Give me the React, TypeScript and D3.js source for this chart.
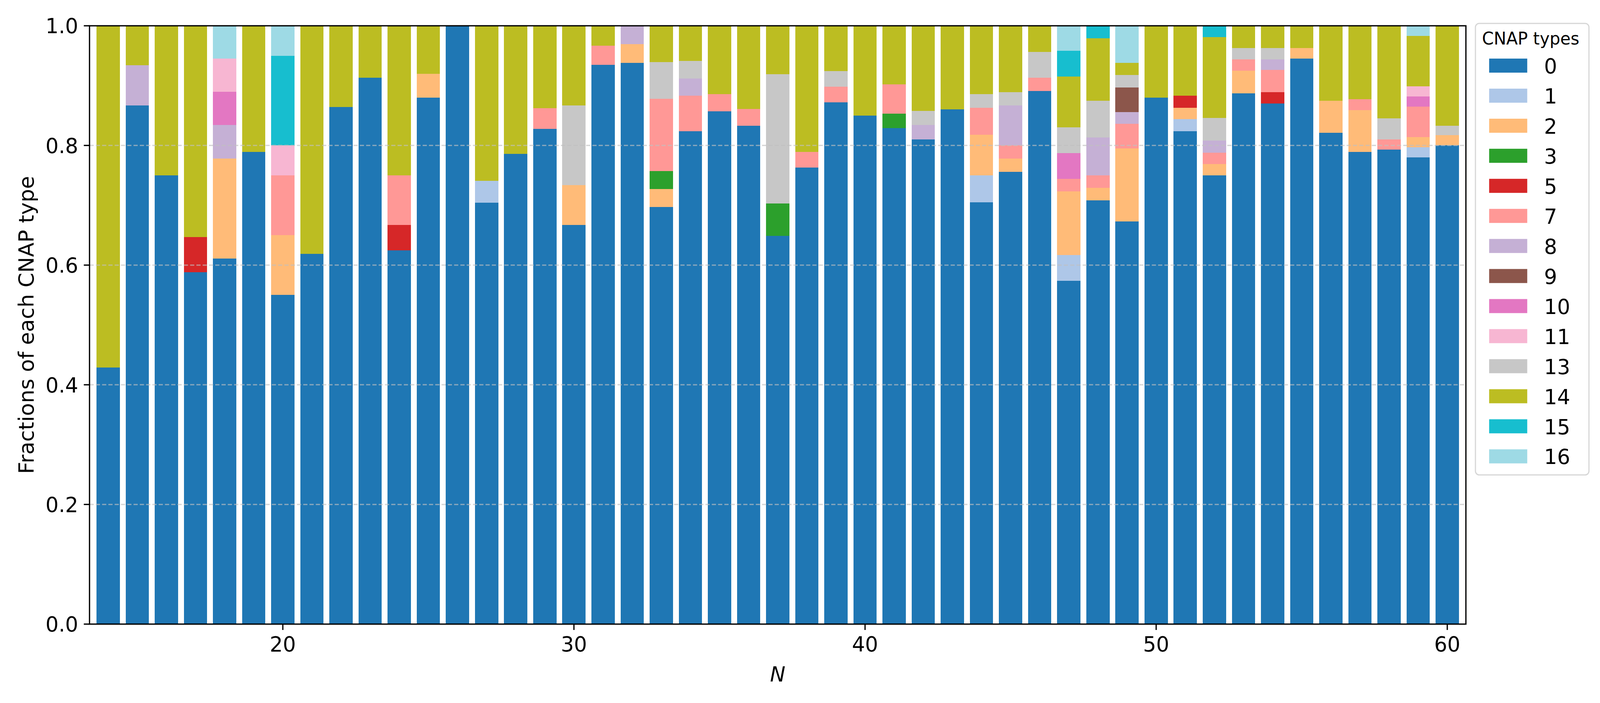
import React from "react";
import * as d3 from "d3";

// ---------- data ----------
const nValues = [14, 15, 16, 17, 18, 19, 20, 21, 22, 23, 24, 25, 26, 27, 28, 29, 30, 31, 32, 33, 34, 35, 36, 37, 38, 39, 40, 41, 42, 43, 44, 45, 46, 47, 48, 49, 50, 51, 52, 53, 54, 55, 56, 57, 58, 59, 60];

const cnapTypes = ["0", "1", "2", "3", "5", "7", "8", "9", "10", "11", "13", "14", "15", "16"];
const typeColors = ["#1f77b4", "#aec7e8", "#ffbb78", "#2ca02c", "#d62728", "#ff9896", "#c5b0d5", "#8c564b", "#e377c2", "#f7b6d2", "#c7c7c7", "#bcbd22", "#17becf", "#9edae5"];

// fractions per N (N = 14 .. 60)
const frac0 = [0.429, 0.867, 0.750, 0.588, 0.611, 0.789, 0.550, 0.619, 0.864, 0.913,
  0.625, 0.880, 1.000, 0.704, 0.786, 0.828, 0.667, 0.935, 0.938, 0.697,
  0.824, 0.857, 0.833, 0.649, 0.763, 0.872, 0.850, 0.829, 0.810, 0.860,
  0.705, 0.756, 0.891, 0.574, 0.708, 0.673, 0.880, 0.824, 0.750, 0.887,
  0.870, 0.945, 0.821, 0.789, 0.793, 0.780, 0.800];
const frac1 = [0, 0, 0, 0, 0, 0, 0, 0, 0, 0,
  0, 0, 0, 0.037, 0, 0, 0, 0, 0, 0,
  0, 0, 0, 0, 0, 0, 0, 0, 0, 0,
  0.045, 0, 0, 0.043, 0, 0, 0, 0.020, 0, 0,
  0, 0, 0, 0, 0, 0.017, 0];
const frac2 = [0, 0, 0, 0, 0.167, 0, 0.100, 0, 0, 0,
  0, 0.040, 0, 0, 0, 0, 0.067, 0, 0.031, 0.030,
  0, 0, 0, 0, 0, 0, 0, 0, 0, 0,
  0.068, 0.022, 0, 0.106, 0.021, 0.122, 0, 0.019, 0.019, 0.038,
  0, 0.018, 0.054, 0.070, 0, 0.017, 0.017];
const frac3 = [0, 0, 0, 0, 0, 0, 0, 0, 0, 0,
  0, 0, 0, 0, 0, 0, 0, 0, 0, 0.030,
  0, 0, 0, 0.054, 0, 0, 0, 0.024, 0, 0,
  0, 0, 0, 0, 0, 0, 0, 0, 0, 0,
  0, 0, 0, 0, 0, 0, 0];
const frac5 = [0, 0, 0, 0.059, 0, 0, 0, 0, 0, 0,
  0.042, 0, 0, 0, 0, 0, 0, 0, 0, 0,
  0, 0, 0, 0, 0, 0, 0, 0, 0, 0,
  0, 0, 0, 0, 0, 0, 0, 0.020, 0, 0,
  0.019, 0, 0, 0, 0, 0, 0];
const frac7 = [0, 0, 0, 0, 0, 0, 0.100, 0, 0, 0,
  0.083, 0, 0, 0, 0, 0.034, 0, 0.032, 0, 0.121,
  0.059, 0.029, 0.028, 0, 0.026, 0.026, 0, 0.049, 0, 0,
  0.045, 0.022, 0.022, 0.021, 0.021, 0.041, 0, 0, 0.019, 0.019,
  0.037, 0, 0, 0.018, 0.017, 0.051, 0];
const frac8 = [0, 0.067, 0, 0, 0.056, 0, 0, 0, 0, 0,
  0, 0, 0, 0, 0, 0, 0, 0, 0.031, 0,
  0.029, 0, 0, 0, 0, 0, 0, 0, 0.024, 0,
  0, 0.067, 0, 0, 0.063, 0.020, 0, 0, 0.020, 0,
  0.018, 0, 0, 0, 0, 0, 0];
const frac9 = [0, 0, 0, 0, 0, 0, 0, 0, 0, 0,
  0, 0, 0, 0, 0, 0, 0, 0, 0, 0,
  0, 0, 0, 0, 0, 0, 0, 0, 0, 0,
  0, 0, 0, 0, 0, 0.041, 0, 0, 0, 0,
  0, 0, 0, 0, 0, 0, 0];
const frac10 = [0, 0, 0, 0, 0.056, 0, 0, 0, 0, 0,
  0, 0, 0, 0, 0, 0, 0, 0, 0, 0,
  0, 0, 0, 0, 0, 0, 0, 0, 0, 0,
  0, 0, 0, 0.043, 0, 0, 0, 0, 0, 0,
  0, 0, 0, 0, 0, 0.017, 0];
const frac11 = [0, 0, 0, 0, 0.055, 0, 0.050, 0, 0, 0,
  0, 0, 0, 0, 0, 0, 0, 0, 0, 0,
  0, 0, 0, 0, 0, 0, 0, 0, 0, 0,
  0, 0, 0, 0, 0, 0, 0, 0, 0, 0,
  0, 0, 0, 0, 0, 0.017, 0];
const frac13 = [0, 0, 0, 0, 0, 0, 0, 0, 0, 0,
  0, 0, 0, 0, 0, 0, 0.133, 0, 0, 0.061,
  0.029, 0, 0, 0.216, 0, 0.026, 0, 0, 0.024, 0,
  0.023, 0.022, 0.043, 0.043, 0.062, 0.021, 0, 0, 0.038, 0.019,
  0.019, 0, 0, 0, 0.035, 0, 0.016];
const frac14 = [0.571, 0.066, 0.250, 0.353, 0, 0.211, 0, 0.381, 0.136, 0.087,
  0.250, 0.080, 0, 0.259, 0.214, 0.138, 0.133, 0.033, 0, 0.061,
  0.059, 0.114, 0.139, 0.081, 0.211, 0.076, 0.150, 0.098, 0.142, 0.140,
  0.114, 0.111, 0.044, 0.085, 0.104, 0.020, 0.120, 0.117, 0.135, 0.037,
  0.037, 0.037, 0.125, 0.123, 0.155, 0.084, 0.167];
const frac15 = [0, 0, 0, 0, 0, 0, 0.150, 0, 0, 0,
  0, 0, 0, 0, 0, 0, 0, 0, 0, 0,
  0, 0, 0, 0, 0, 0, 0, 0, 0, 0,
  0, 0, 0, 0.043, 0.021, 0, 0, 0, 0.019, 0,
  0, 0, 0, 0, 0, 0, 0];
const frac16 = [0, 0, 0, 0, 0.055, 0, 0.050, 0, 0, 0,
  0, 0, 0, 0, 0, 0, 0, 0, 0, 0,
  0, 0, 0, 0, 0, 0, 0, 0, 0, 0,
  0, 0, 0, 0.042, 0, 0.062, 0, 0, 0, 0,
  0, 0, 0, 0, 0, 0.017, 0];

const yTicks = [0, 0.2, 0.4, 0.6, 0.8, 1.0];
const xTicks = [20, 30, 40, 50, 60];
const gridTicks = [0.2, 0.4, 0.6, 0.8];

const seriesByType = [frac0, frac1, frac2, frac3, frac5, frac7, frac8, frac9, frac10, frac11, frac13, frac14, frac15, frac16];

// ---------- layout ----------
const W = 4200;
const H = 1800;
const PL = 235;
const PR = 3848;
const PT = 66;
const PB = 1598;
const FONT = "'DejaVu Sans', sans-serif";
const BAR_W = 0.8;

export default function App() {
  React.useEffect(() => {
    document.body.style.margin = "0";
    document.body.style.overflow = "hidden";
    document.documentElement.style.overflow = "hidden";
  }, []);

  const x = d3.scaleLinear().domain([13.36, 60.64]).range([PL, PR]);
  const y = d3.scaleLinear().domain([0, 1]).range([PB, PT]);

  const rows = nValues.map((n, i) => {
    const r: any = { n };
    cnapTypes.forEach((t, k) => (r[t] = seriesByType[k][i]));
    return r;
  });
  const stacked = d3.stack<any>().keys(cnapTypes)(rows);

  const tickLen = 15;
  const lw = 3.3;

  return (
    <svg
      viewBox={`0 0 ${W} ${H}`}
      preserveAspectRatio="none"
      style={{ position: "fixed", left: 0, top: 0, width: "100vw", height: "100vh", display: "block", background: "#fff" }}
      fontFamily={FONT}
    >
      <rect x={0} y={0} width={W} height={H} fill="#fff" />
      <defs>
        <clipPath id="plotclip">
          <rect x={PL} y={PT} width={PR - PL} height={PB - PT} />
        </clipPath>
      </defs>

      <g clipPath="url(#plotclip)" shapeRendering="crispEdges">
        {stacked.map((layer, li) => (
          <g key={layer.key} fill={typeColors[li]}>
            {layer.map((d, i) => {
              const v0 = d[0];
              const v1 = Math.min(d[1], 1);
              if (!(v1 - v0 > 0)) return null;
              const n = nValues[i];
              const x0 = x(n - BAR_W / 2);
              const x1 = x(n + BAR_W / 2);
              return <rect key={i} x={x0} width={x1 - x0} y={y(v1)} height={y(v0) - y(v1)} />;
            })}
          </g>
        ))}
      </g>

      {/* grid (above bars, as in matplotlib) */}
      <g>
        {gridTicks.map((t) => (
          <line
            key={t}
            x1={PL}
            x2={PR}
            y1={y(t)}
            y2={y(t)}
            stroke="#c0c0c0"
            strokeOpacity={0.65}
            strokeWidth={3.3}
            strokeDasharray="11,5.5"
          />
        ))}
      </g>

      {/* spines */}
      <rect x={PL} y={PT} width={PR - PL} height={PB - PT} fill="none" stroke="#000" strokeWidth={lw} />

      {/* y ticks */}
      <g>
        {yTicks.map((t) => (
          <g key={t}>
            <line x1={PL - tickLen} x2={PL} y1={y(t)} y2={y(t)} stroke="#000" strokeWidth={lw} />
            <text x={PL - tickLen - 14.6} y={y(t) + 19.5} textAnchor="end" fontSize={54} fill="#000">
              {d3.format(".1f")(t)}
            </text>
          </g>
        ))}
      </g>

      {/* x ticks */}
      <g>
        {xTicks.map((t) => (
          <g key={t}>
            <line x1={x(t)} x2={x(t)} y1={PB} y2={PB + tickLen} stroke="#000" strokeWidth={lw} />
            <text x={x(t)} y={1668} textAnchor="middle" fontSize={54} fill="#000">
              {t}
            </text>
          </g>
        ))}
      </g>

      {/* axis labels */}
      <text
        transform={`translate(88, ${(PT + PB) / 2}) rotate(-90)`}
        textAnchor="middle"
        fontSize={54}
        fill="#000"
      >
        Fractions of each CNAP type
      </text>
      <text x={(PL + PR) / 2} y={1745} textAnchor="middle" fontSize={54} fontStyle="italic" fill="#000">
        N
      </text>

      {/* legend */}
      <g>
        <rect x={3873} y={60} width={298} height={1156} rx={10} ry={10} fill="#fff" stroke="#d6d6d6" strokeWidth={3} />
        <text x={4018} y={114} textAnchor="middle" fontSize={44} fill="#000">
          CNAP types
        </text>
        {cnapTypes.map((t, i) => {
          const cy = 168 + i * 76.96;
          return (
            <g key={t}>
              <rect x={3909} y={cy - 18} width={100} height={36} fill={typeColors[i]} />
              <text x={4053} y={cy + 20} fontSize={54} fill="#000">
                {t}
              </text>
            </g>
          );
        })}
      </g>
    </svg>
  );
}
